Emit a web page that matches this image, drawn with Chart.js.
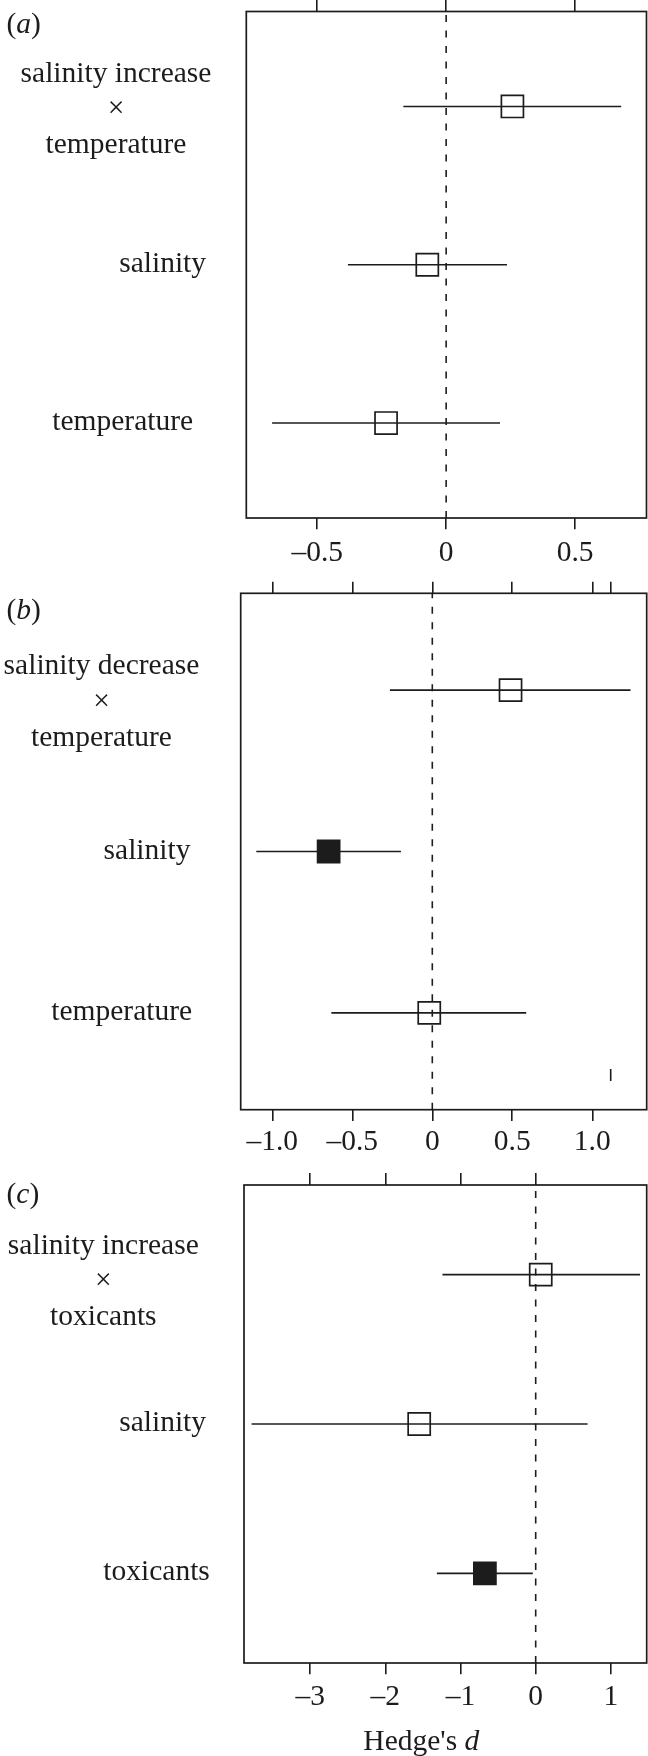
<!DOCTYPE html>
<html>
<head>
<meta charset="utf-8">
<script src="https://cdn.jsdelivr.net/npm/chart.js@4.4.1/dist/chart.umd.min.js"></script>
<style>
  body { margin: 0; background: #fff; }
  #wrap { position: relative; width: 648px; height: 1756px; }
  canvas { position: absolute; left: 0; }
</style>
</head>
<body>
<div id="wrap">
  <canvas id="panelA" width="648" height="580" style="top:0px"></canvas>
  <canvas id="panelB" width="648" height="592" style="top:580px"></canvas>
  <canvas id="panelC" width="648" height="584" style="top:1172px"></canvas>
</div>
<script>
// (a) salinity increase x temperature
const rowsA = [["salinity increase", "×", "temperature"], ["salinity"], ["temperature"]];
const estA = [0.257, -0.073, -0.233];
const lowA = [-0.166, -0.381, -0.675];
const highA = [0.679, 0.236, 0.209];
const filledA = [false, false, false];
const ticksA = [-0.5, 0, 0.5];
const tickLabelsA = ["–0.5", "0", "0.5"];
const topTicksA = [-0.5, 0, 0.5];

// (b) salinity decrease x temperature
const rowsB = [["salinity decrease", "×", "temperature"], ["salinity"], ["temperature"]];
const estB = [0.489, -0.648, -0.019];
const lowB = [-0.265, -1.10, -0.631];
const highB = [1.239, -0.196, 0.587];
const filledB = [false, true, false];
const ticksB = [-1, -0.5, 0, 0.5, 1];
const tickLabelsB = ["–1.0", "–0.5", "0", "0.5", "1.0"];
const topTicksB = [-1, -0.5, 0, 0.5, 1, 1.115];
const markB = [{ x: 1.115, y: 0.615 }];

// (c) salinity increase x toxicants
const rowsC = [["salinity increase", "×", "toxicants"], ["salinity"], ["toxicants"]];
const estC = [0.067, -1.55, -0.676];
const lowC = [-1.24, -3.78, -1.315];
const highC = [1.388, 0.69, -0.038];
const filledC = [false, false, true];
const ticksC = [-3, -2, -1, 0, 1];
const tickLabelsC = ["–3", "–2", "–1", "0", "1"];
const topTicksC = [-3, -2, -1, 0];

const xTitle = "Hedge's ";
const xTitleItalic = "d";

const INK = '#1c1c1c';
const SERIF = '"Liberation Serif", "Times New Roman", serif';
const FS = 29.5;

function drawPieces(ctx, pieces, x, y, align) {
  // pieces: [text, italic]
  const widths = pieces.map(([t, it]) => {
    ctx.font = (it ? 'italic ' : '') + FS + 'px ' + SERIF;
    return ctx.measureText(t).width;
  });
  const total = widths.reduce((a, b) => a + b, 0);
  let cx = align === 'center' ? x - total / 2 : x;
  ctx.textAlign = 'left';
  pieces.forEach(([t, it], i) => {
    ctx.font = (it ? 'italic ' : '') + FS + 'px ' + SERIF;
    ctx.fillText(t, cx, y);
    cx += widths[i];
  });
}

function makePanel(id, p) {
  const n = p.rows.length;
  const rowY = i => n - i;

  const squares = {
    data: p.est.map((v, i) => ({ x: v, y: rowY(i) })),
    pointStyle: 'rect',
    pointRadius: 15.6,
    pointBorderWidth: 1.7,
    pointBorderColor: INK,
    pointBackgroundColor: p.filled.map(f => f ? INK : 'rgba(0,0,0,0)'),
    showLine: false
  };
  const bars = p.est.map((v, i) => ({
    data: [{ x: p.low[i], y: rowY(i) }, { x: p.high[i], y: rowY(i) }],
    showLine: true, borderColor: INK, borderWidth: 1.6, pointRadius: 0
  }));
  const zero = {
    data: [{ x: 0, y: 0.4 }, { x: 0, y: n + 0.6 }],
    showLine: true, borderColor: INK, borderWidth: 1.6, borderDash: [7, 8.5], pointRadius: 0
  };
  const datasets = [squares, zero, ...bars];
  if (p.mark) {
    datasets.push({
      data: p.mark, pointStyle: 'line', pointRotation: 90, pointRadius: 6,
      pointBorderWidth: 1.6, pointBorderColor: INK, showLine: false
    });
  }

  const textPlugin = {
    id: 'panelText' + id,
    afterDraw(chart) {
      const { ctx, chartArea, scales } = chart;
      ctx.save();
      ctx.strokeStyle = INK;
      ctx.lineWidth = 1.7;
      ctx.strokeRect(chartArea.left, chartArea.top, chartArea.right - chartArea.left, chartArea.bottom - chartArea.top);
      ctx.fillStyle = INK;
      ctx.textBaseline = 'alphabetic';
      p.rows.forEach((lines, i) => {
        const y = scales.y.getPixelForValue(rowY(i));
        const off = lines.length > 1 ? p.blockShift : 7;
        lines.forEach((s, k) => {
          drawPieces(ctx, [[s, false]], p.labelX[i], y + off + (k - (lines.length - 1) / 2) * 35.7, 'center');
        });
      });
      drawPieces(ctx, [['(', false], [p.letter, true], [')', false]], 6.5, p.letterBase, 'left');
      if (p.title) {
        drawPieces(ctx, [[xTitle, false], [xTitleItalic, true]], p.title.x, p.title.y, 'center');
      }
      ctx.restore();
    }
  };

  const H = document.getElementById(id).height;
  new Chart(document.getElementById(id).getContext('2d'), {
    type: 'scatter',
    data: { datasets },
    options: {
      responsive: false,
      animation: false,
      events: [],
      layout: { autoPadding: false, padding: { left: p.left, right: 648 - p.right, top: 0, bottom: 0 } },
      plugins: { legend: { display: false }, tooltip: { enabled: false } },
      scales: {
        x: {
          type: 'linear', position: 'bottom', min: p.min, max: p.max,
          afterBuildTicks: s => { s.ticks = p.ticks.map(v => ({ value: v })); },
          afterFit: s => { s.height = H - p.bottom; },
          ticks: {
            color: INK, padding: p.labelPad, maxRotation: 0, autoSkip: false,
            font: { family: SERIF, size: FS },
            callback: v => p.tickLabels[p.ticks.indexOf(v)]
          },
          grid: { drawOnChartArea: false, tickLength: 11.3, color: INK, lineWidth: 1.6 },
          border: { display: false }
        },
        x2: {
          type: 'linear', position: 'top', min: p.min, max: p.max,
          afterBuildTicks: s => { s.ticks = p.topTicks.map(v => ({ value: v })); },
          afterFit: s => { s.height = p.top; },
          ticks: { display: false },
          grid: { drawOnChartArea: false, tickLength: p.topTick, color: INK, lineWidth: 1.6 },
          border: { display: false }
        },
        y: { display: false, min: 0.4, max: n + 0.6 }
      }
    },
    plugins: [textPlugin]
  });
}

makePanel('panelA', {
  rows: rowsA, est: estA, low: lowA, high: highA, filled: filledA,
  ticks: ticksA, tickLabels: tickLabelsA, topTicks: topTicksA,
  min: -0.775, max: 0.777, left: 246.3, right: 646.5, top: 11.5, bottom: 518, topTick: 11.5,
  labelPad: 5.8, labelX: [116, 162.6, 122.7], blockShift: 10.75,
  letter: 'a', letterBase: 33
});
makePanel('panelB', {
  rows: rowsB, est: estB, low: lowB, high: highB, filled: filledB,
  ticks: ticksB, tickLabels: tickLabelsB, topTicks: topTicksB, mark: markB,
  min: -1.1975, max: 1.34, left: 240.7, right: 646.7, top: 13.3, bottom: 529.7, topTick: 11.6,
  labelPad: 3.8, labelX: [101.5, 147, 121.7], blockShift: 20,
  letter: 'b', letterBase: 38.5
});
makePanel('panelC', {
  rows: rowsC, est: estC, low: lowC, high: highC, filled: filledC,
  ticks: ticksC, tickLabels: tickLabelsC, topTicks: topTicksC,
  min: -3.881, max: 1.477, left: 244, right: 646.7, top: 13, bottom: 491, topTick: 12,
  labelPad: 4.8, labelX: [103.3, 162.6, 156.6], blockShift: 14.8,
  letter: 'c', letterBase: 31,
  title: { x: 421.3, y: 578 }
});
</script>
</body>
</html>
